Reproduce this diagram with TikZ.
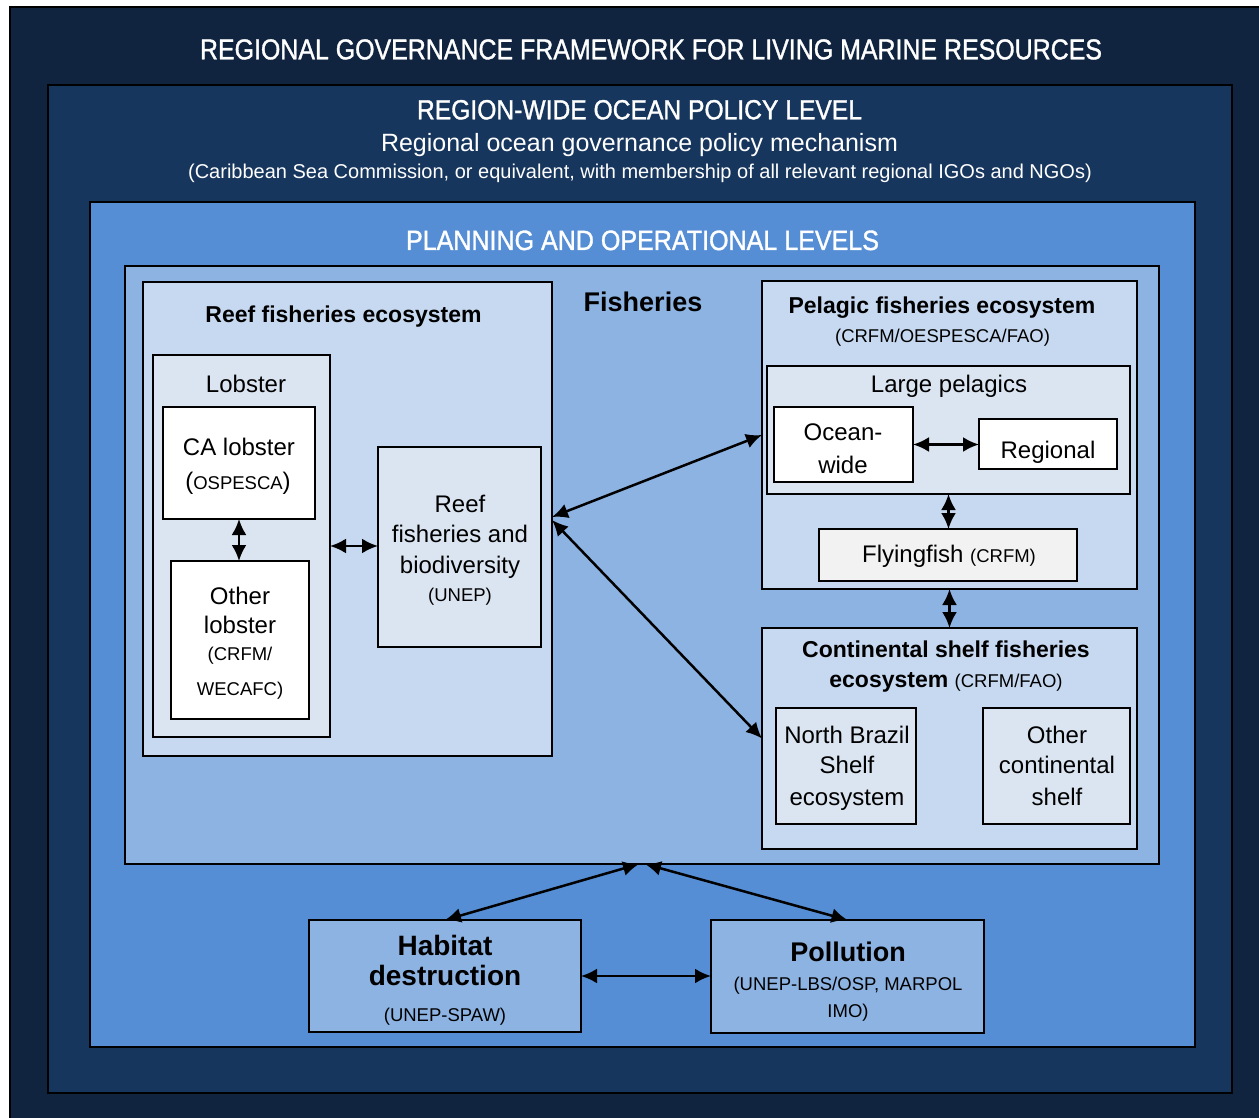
\documentclass[tikz,border=0pt]{standalone}
\usepackage{fontspec}
\setmainfont{Liberation Sans}
\newfontfamily\medfont{Liberation Sans}[FakeBold=1.3]
\usetikzlibrary{arrows.meta,calc}
\definecolor{cOuter}{HTML}{10233F}
\definecolor{cLevTwo}{HTML}{17365D}
\definecolor{cLevThree}{HTML}{558ED5}
\definecolor{cFish}{HTML}{8DB3E2}
\definecolor{cMid}{HTML}{C6D9F1}
\definecolor{cLight}{HTML}{DBE5F1}
\definecolor{cFly}{HTML}{F2F2F2}
\newcommand\fsA{\fontsize{24}{28}\selectfont}
\newcommand\fsR{\fontsize{25}{29}\selectfont}
\newcommand\fsS{\fontsize{18.5}{22}\selectfont}
\newcommand\fsW{\fontsize{20}{24}\selectfont}
\newcommand\fsB{\bfseries\fontsize{23}{27}\selectfont}
\newcommand\fsC{\bfseries\fontsize{28}{32}\selectfont}
\newcommand\fsF{\bfseries\fontsize{27}{31}\selectfont}
\begin{document}
\begin{tikzpicture}[x=1pt,y=-1pt,
  box/.style={draw=black, line width=1.5pt, inner sep=0pt, outer sep=0pt, rectangle},
  bigbox/.style={box, line width=2pt},
  lbl/.style={anchor=base, inner sep=0pt, align=center},
  wlbl/.style={lbl, text=white},
  arr/.style={{Latex[length=16pt,width=15pt]}-{Latex[length=16pt,width=15pt]}, line width=2.5pt}]
\useasboundingbox (0,0) rectangle (1259,1118);
\fill[white] (0,0) rectangle (1259,1118);
% outer frames
\node[bigbox, fill=cOuter, minimum width=1265pt, minimum height=1123pt] (outer) at (642.5,568.5) {};
\node[bigbox, fill=cLevTwo, minimum width=1184pt, minimum height=1008pt] (levtwo) at (640,589) {};
\node[bigbox, fill=cLevThree, minimum width=1105pt, minimum height=845pt] (levthree) at (642.5,624.5) {};
\node[bigbox, fill=cFish, minimum width=1034pt, minimum height=598pt] (fish) at (642,565) {};
% reef
\node[box, fill=cMid, minimum width=409pt, minimum height=474pt] (reef) at (347.5,519) {};
\node[box, fill=cLight, minimum width=177pt, minimum height=382pt] (lob) at (241.5,546) {};
\node[box, fill=white, minimum width=152pt, minimum height=112pt] (calob) at (239,463) {};
\node[box, fill=white, minimum width=138pt, minimum height=158pt] (othlob) at (240,640) {};
\node[box, fill=cLight, minimum width=163pt, minimum height=200pt] (reefbio) at (459.5,547) {};
% pelagic
\node[box, fill=cMid, minimum width=375pt, minimum height=308pt] (pel) at (949.5,435) {};
\node[box, fill=cLight, minimum width=363pt, minimum height=128pt] (large) at (948.5,430) {};
\node[box, fill=white, minimum width=139pt, minimum height=75pt] (ocean) at (843.5,444.5) {};
\node[box, fill=white, minimum width=138pt, minimum height=50pt] (regional) at (1048,444) {};
\node[box, fill=cFly, minimum width=258pt, minimum height=52pt] (flying) at (948,555) {};
% continental
\node[box, fill=cMid, minimum width=375pt, minimum height=221pt] (cont) at (949.5,738.5) {};
\node[box, fill=cLight, minimum width=140pt, minimum height=116pt] (nb) at (846,766) {};
\node[box, fill=cLight, minimum width=147pt, minimum height=116pt] (othcont) at (1056.5,766) {};
% threats
\node[box, fill=cFish, minimum width=272pt, minimum height=112pt] (hab) at (445,976) {};
\node[box, fill=cFish, minimum width=273pt, minimum height=113pt] (pol) at (847.5,976.5) {};
% headings
\node[wlbl] (ttl) at (651,59.3) {\resizebox{902pt}{20pt}{\medfont REGIONAL GOVERNANCE FRAMEWORK FOR LIVING MARINE RESOURCES}};
\node[wlbl] (ttwo) at (639.5,119.3) {\resizebox{445pt}{19.3pt}{\medfont REGION-WIDE OCEAN POLICY LEVEL}};
\node[wlbl, font=\fsR] (ttwob) at (639.5,152) {Regional ocean governance policy mechanism};
\node[wlbl, font=\fsW] (ttwoc) at (640,178.5) {(Caribbean Sea Commission, or equivalent, with membership of all relevant regional IGOs and NGOs)};
\node[wlbl] (tthree) at (642.5,250) {\resizebox{473pt}{19.5pt}{\medfont PLANNING AND OPERATIONAL LEVELS}};
\node[lbl, font=\fsF] (tfish) at (643,311.5) {Fisheries};
% reef texts
\node[lbl, font=\fsB] (treef) at (343.5,322) {Reef fisheries ecosystem};
\node[lbl, font=\fsA] (tlob) at (246,392) {Lobster};
\node[lbl, font=\fsA] (tcaa) at (239,455) {CA lobster};
\node[lbl, font=\fsA] (tcab) at (238,489) {({\fsS OSPESCA})};
\node[lbl, font=\fsA] (tola) at (240,604) {Other};
\node[lbl, font=\fsA] (tolb) at (240,633) {lobster};
\node[lbl, font=\fsS] (tolc) at (240,660) {(CRFM/};
\node[lbl, font=\fsS] (told) at (240,695) {WECAFC)};
\node[lbl, font=\fsA] (trba) at (460,512) {Reef};
\node[lbl, font=\fsA] (trbb) at (460,542) {fisheries and};
\node[lbl, font=\fsA] (trbc) at (460,573) {biodiversity};
\node[lbl, font=\fsS] (trbd) at (460,601) {(UNEP)};
% pelagic texts
\node[lbl, font=\fsB] (tpela) at (942,313) {Pelagic fisheries ecosystem};
\node[lbl, font=\fsS] (tpelb) at (942.5,342) {(CRFM/OESPESCA/FAO)};
\node[lbl, font=\fsA] (tlarge) at (949,392) {Large pelagics};
\node[lbl, font=\fsA] (toca) at (843,440) {Ocean-};
\node[lbl, font=\fsA] (tocb) at (843,473) {wide};
\node[lbl, font=\fsA] (treg) at (1048,458) {Regional};
\node[lbl, font=\fsA] (tfly) at (949,562) {Flyingfish {\fsS(CRFM)}};
% continental texts
\node[lbl, font=\fsB] (tcona) at (946,657) {Continental shelf fisheries};
\node[lbl, font=\fsB] (tconb) at (946,687) {ecosystem {\fsS\mdseries (CRFM/FAO)}};
\node[lbl, font=\fsA] (tnba) at (847,743) {North Brazil};
\node[lbl, font=\fsA] (tnbb) at (847,773) {Shelf};
\node[lbl, font=\fsA] (tnbc) at (847,805) {ecosystem};
\node[lbl, font=\fsA] (toca2) at (1057,743) {Other};
\node[lbl, font=\fsA] (tocb2) at (1057,773) {continental};
\node[lbl, font=\fsA] (tocc2) at (1057,805) {shelf};
% threats texts
\node[lbl, font=\fsC] (thaba) at (445,955) {Habitat};
\node[lbl, font=\fsC] (thabb) at (445,985) {destruction};
\node[lbl, font=\fsS] (thabc) at (445,1021) {(UNEP-SPAW)};
\node[lbl, font=\fsF] (tpola) at (848,961) {Pollution};
\node[lbl, font=\fsS] (tpolb) at (848,990) {(UNEP-LBS/OSP, MARPOL};
\node[lbl, font=\fsS] (tpolc) at (848,1017) {IMO)};
% connectors
\coordinate (fa) at ($(fish.south)+(-3,0)$);
\coordinate (fb) at ($(fish.south)+(3,0)$);
\draw[arr] (calob.south) -- (calob.south |- othlob.north);
\draw[arr] (lob.east) -- (lob.east -| reefbio.west);
\draw[arr] ($(reef.east)+(0,-2)$) -- (pel.west);
\draw[arr] ($(reef.east)+(0,1)$) -- (cont.west);
\draw[arr] (ocean.east) -- (ocean.east -| regional.west);
\draw[arr] (large.south) -- (large.south |- flying.north);
\draw[arr] (pel.south) -- (cont.north);
\draw[arr] (hab.east) -- (hab.east -| pol.west);
\draw[arr] (fa) -- (hab.north);
\draw[arr] (fb) -- (pol.north);
\end{tikzpicture}
\end{document}
